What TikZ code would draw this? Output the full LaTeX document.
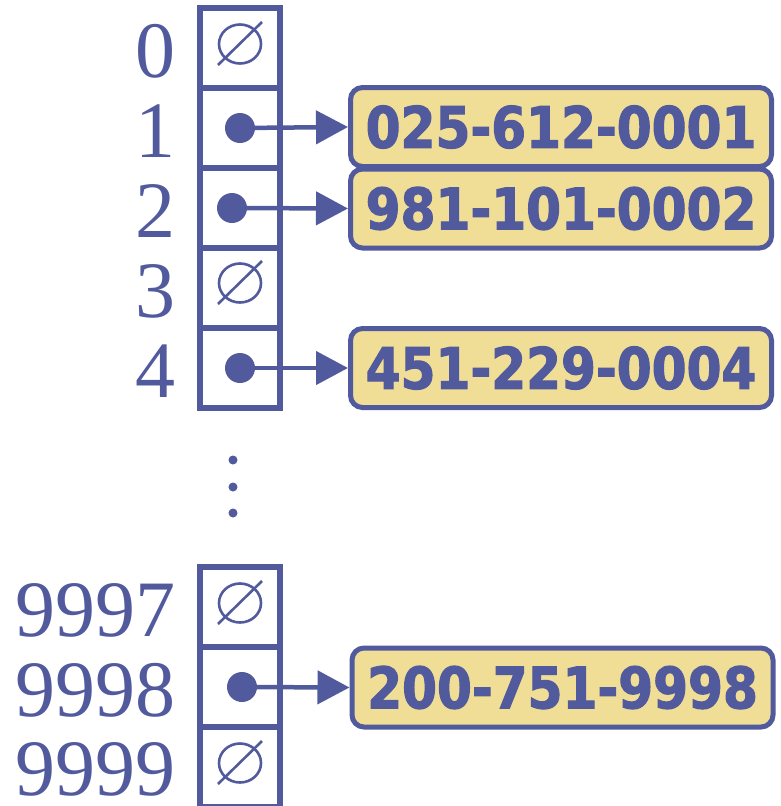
\documentclass[tikz,border=0pt]{standalone}
\usepackage{fontspec}
\usetikzlibrary{arrows.meta,shapes.geometric}
\setmainfont{Liberation Serif}
\newfontfamily\boxfont[FakeStretch=0.88,FakeBold=2]{DejaVu Sans}
\definecolor{ink}{RGB}{82,90,158}
\definecolor{boxfill}{RGB}{240,221,150}
\tikzset{
  cell/.style={draw=ink, line width=5.5pt, minimum width=80pt, minimum height=80pt, inner sep=0pt, fill=none},
  lab/.style={text=ink, font=\fontsize{80}{80}\selectfont, anchor=base east, inner sep=0pt, text depth=0pt},
  rec/.style={draw=ink, fill=boxfill, line width=5pt, rounded corners=12pt, minimum width=421pt, minimum height=79pt, inner sep=0pt, text=ink, font=\boxfont\bfseries\fontsize{57}{58}\selectfont},
  ptr/.style={circle, fill=ink, minimum size=30pt, inner sep=0pt},
  nullc/.style={ellipse, draw=ink, line width=2.6pt, minimum width=42pt, minimum height=39pt, inner sep=0pt},
  arr/.style={draw=ink, line width=4.5pt, -{Triangle[length=32pt,width=33pt]}},
}
\begin{document}
\begin{tikzpicture}[x=1pt,y=-1pt]
\useasboundingbox (0,0) rectangle (780,806);
% cells
\foreach \i/\y in {0/48,1/128,2/208,3/288,4/368,9997/607,9998/687,9999/767}{
  \node[cell] (c\i) at (240,\y) {};
}
\foreach \i/\y in {0/48,1/128,2/208,3/288,4/368,9997/607,9998/687,9999/766}{
  \node[lab] (l\i) at (176,\y+29) {\i};
}
% empty markers
\foreach \i/\y in {0/44,3/283,9997/603,9999/763}{
  \node[nullc] (n\i) at (240,\y) {};
  \draw[ink, line width=2.6pt] (n\i.center) ++(-22,21) -- ++(44,-43);
}
% records
\node[rec] (b1) at (561,127) {025-612-0001};
\node[rec] (b2) at (561,208.5) {981-101-0002};
\node[rec] (b4) at (561,368) {451-229-0004};
\node[rec] (b9998) at (562.5,687.5) {200-751-9998};
% pointers
\node[ptr] (d1) at (240,128) {};
\node[ptr] (d2) at (232,208) {};
\node[ptr] (d4) at (240,368) {};
\node[ptr] (d9998) at (242,687) {};
\draw[arr] (d1.center) -- (b1.west);
\draw[arr] (d2.center) -- (b2.west);
\draw[arr] (d4.center) -- (b4.west);
\draw[arr] (d9998.center) -- (b9998.west);
% ellipsis
\fill[ink] (233,460) circle (4.5) (233,487) circle (4.5) (233,513) circle (4.5);
\end{tikzpicture}
\end{document}
